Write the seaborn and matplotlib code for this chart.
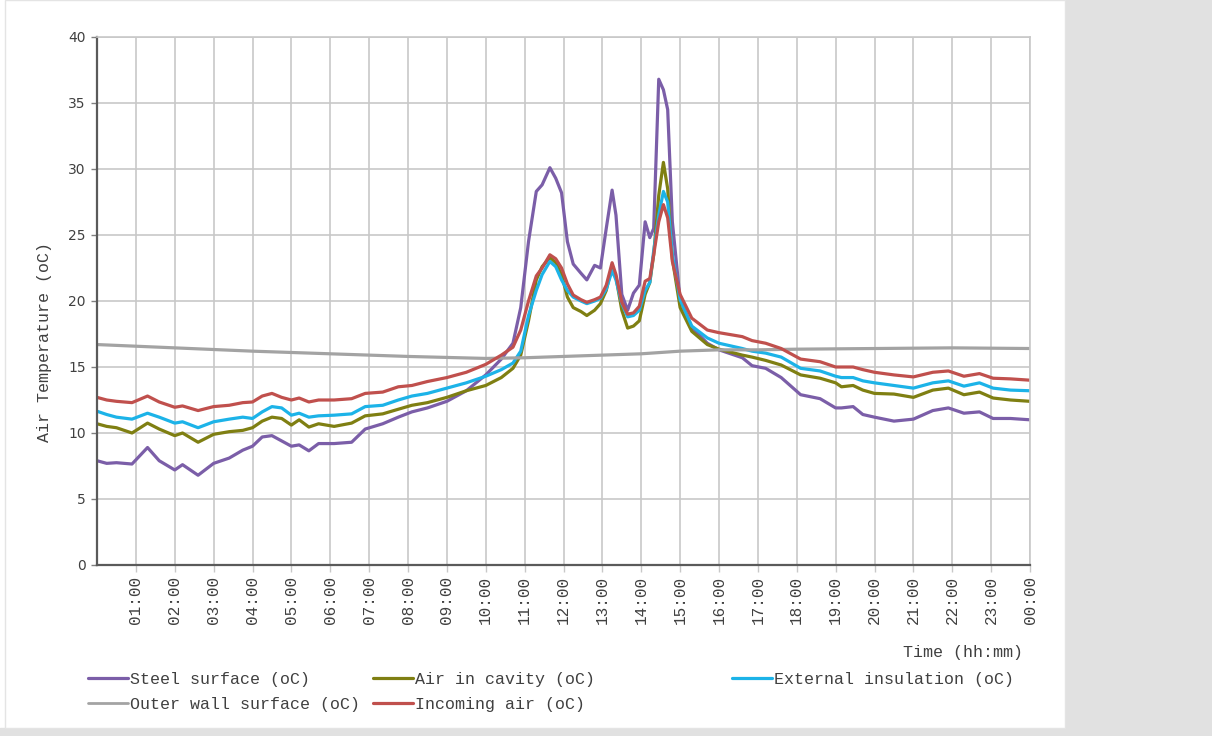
import matplotlib
matplotlib.use("Agg")
import matplotlib.pyplot as plt
from matplotlib.patches import Rectangle
import seaborn as sns
import pandas as pd

# time of day in hours (0 = 00:00, 24 = next 00:00)
hours = [0, 0.25, 0.5, 0.9, 1.3, 1.6, 2.0, 2.2, 2.6, 3.0,
         3.4, 3.75, 4.0, 4.25, 4.5, 4.75, 5.0, 5.2, 5.45, 5.7,
         6.1, 6.55, 6.9, 7.35, 7.75, 8.1, 8.5, 9.0, 9.5, 10.0,
         10.4, 10.7, 10.9, 11.1, 11.3, 11.45, 11.65, 11.8, 11.95, 12.1,
         12.25, 12.45, 12.6, 12.8, 12.95, 13.1, 13.25, 13.35, 13.5, 13.65,
         13.8, 13.95, 14.1, 14.22, 14.32, 14.45, 14.57, 14.68, 14.8, 15.0,
         15.3, 15.7, 16.0, 16.6, 16.85, 17.2, 17.6, 18.1, 18.6, 19.0,
         19.15, 19.45, 19.7, 20.0, 20.5, 21.0, 21.5, 21.9, 22.3, 22.7,
         23.05, 23.5, 24.0]

steel = [7.9, 7.7, 7.75, 7.65, 8.9, 7.9, 7.2, 7.6, 6.8, 7.7,
         8.1, 8.7, 9.0, 9.7, 9.8, 9.4, 9.0, 9.1, 8.65, 9.2,
         9.2, 9.3, 10.3, 10.7, 11.2, 11.6, 11.9, 12.4, 13.2, 14.4,
         15.6, 16.8, 19.5, 24.5, 28.3, 28.8, 30.1, 29.3, 28.2, 24.5,
         22.8, 22.1, 21.6, 22.7, 22.5, 25.5, 28.4, 26.5, 20.5, 19.3,
         20.6, 21.2, 26.0, 24.8, 25.5, 36.8, 36.0, 34.5, 26.0, 20.1,
         18.0, 16.8, 16.3, 15.7, 15.1, 14.9, 14.2, 12.9, 12.6, 11.9,
         11.9, 12.0, 11.4, 11.2, 10.9, 11.05, 11.7, 11.9, 11.5, 11.6,
         11.1, 11.1, 11.0]

cavity = [10.7, 10.5, 10.4, 10.0, 10.75, 10.3, 9.8, 10.0, 9.3, 9.9,
          10.1, 10.2, 10.4, 10.9, 11.2, 11.1, 10.6, 11.0, 10.45, 10.7,
          10.5, 10.75, 11.3, 11.45, 11.8, 12.1, 12.3, 12.7, 13.2, 13.6,
          14.2, 14.9, 15.9, 18.5, 21.6, 22.6, 23.3, 22.9, 22.0, 20.3,
          19.5, 19.2, 18.9, 19.3, 19.8, 20.8, 22.7, 21.8, 19.3, 17.95,
          18.1, 18.5, 20.5, 21.4, 23.5, 28.0, 30.5, 28.5, 23.2, 19.5,
          17.7, 16.7, 16.35, 15.9, 15.75, 15.5, 15.15, 14.4, 14.15, 13.8,
          13.5, 13.6, 13.25, 13.0, 12.95, 12.7, 13.25, 13.4, 12.9, 13.1,
          12.65, 12.5, 12.4]

insulation = [11.65, 11.4, 11.2, 11.05, 11.5, 11.2, 10.75, 10.85, 10.4, 10.85,
              11.05, 11.2, 11.1, 11.6, 12.0, 11.9, 11.35, 11.5, 11.2, 11.3,
              11.35, 11.45, 12.0, 12.1, 12.5, 12.8, 13.0, 13.4, 13.8, 14.3,
              14.8, 15.3, 16.2, 18.9, 20.8, 22.0, 23.0, 22.6, 21.6, 20.8,
              20.3, 20.0, 19.8, 20.0, 20.2, 20.9, 22.3, 21.6, 19.8, 18.8,
              18.9, 19.3, 20.8, 21.4, 23.8, 26.5, 28.3, 27.5, 23.5, 20.1,
              18.1, 17.2, 16.8, 16.4, 16.2, 16.05, 15.75, 14.9, 14.7, 14.3,
              14.2, 14.2, 13.95, 13.8, 13.6, 13.4, 13.8, 13.95, 13.55, 13.8,
              13.4, 13.25, 13.2]

incoming = [12.7, 12.5, 12.4, 12.3, 12.8, 12.35, 11.95, 12.05, 11.7, 12.0,
            12.1, 12.3, 12.35, 12.8, 13.0, 12.7, 12.5, 12.65, 12.35, 12.5,
            12.5, 12.6, 13.0, 13.1, 13.5, 13.6, 13.9, 14.2, 14.6, 15.2,
            15.9, 16.5, 17.8, 20.0, 21.9, 22.5, 23.5, 23.2, 22.5, 21.3,
            20.45, 20.1, 19.9, 20.1, 20.3, 21.2, 22.9, 22.0, 19.9, 19.0,
            19.1, 19.6, 21.5, 21.7, 23.5, 26.0, 27.3, 26.3, 23.0, 20.5,
            18.7, 17.8, 17.6, 17.3, 17.0, 16.8, 16.4, 15.6, 15.4, 15.0,
            15.0, 15.0, 14.8, 14.6, 14.4, 14.25, 14.6, 14.7, 14.3, 14.5,
            14.15, 14.1, 14.0]

# outer wall changes slowly, fewer readings
wall_hours = [0, 2, 4, 6, 8, 10, 11, 12, 13, 14, 15, 16, 17, 18, 20, 22, 24]
wall = [16.7, 16.45, 16.2, 16.0, 15.8, 15.65, 15.7, 15.8, 15.9, 16.0,
        16.2, 16.3, 16.3, 16.35, 16.4, 16.45, 16.4]

tick_labels = ["%02d:00" % (h % 24) for h in range(1, 25)]

names = ["Steel surface (oC)", "Air in cavity (oC)", "External insulation (oC)",
         "Outer wall surface (oC)", "Incoming air (oC)"]
colors = ["#7B5EA8", "#7F7F12", "#1CB3E8", "#A3A3A3", "#C0504D"]

records = []
for name, xs, ys in zip(names,
                        [hours, hours, hours, wall_hours, hours],
                        [steel, cavity, insulation, wall, incoming]):
    for x, y in zip(xs, ys):
        records.append({"series": name, "time": x, "temp": y})
df = pd.DataFrame(records)

sns.set_style("white")
mono = ["Liberation Mono", "DejaVu Sans Mono"]
txt_col = "#404040"

fig = plt.figure(figsize=(12.12, 7.36), dpi=100)
fig.patch.set_facecolor("white")
# grey panel on the right and strip at the bottom
fig.patches.append(Rectangle((1065 / 1212, 0), 1 - 1065 / 1212, 1,
                             transform=fig.transFigure, color="#E1E1E1", zorder=-2))
fig.patches.append(Rectangle((0, 0), 1, 8 / 736,
                             transform=fig.transFigure, color="#E1E1E1", zorder=-2))
fig.patches.append(Rectangle((5 / 1212, 8 / 736), 1060 / 1212, 1 - 8 / 736,
                             transform=fig.transFigure, facecolor="white",
                             edgecolor="#E4E4E4", lw=1, zorder=-1))

ax = fig.add_axes([97 / 1212, 1 - 565 / 736, 933 / 1212, 528 / 736])
ax.set_facecolor("none")

sns.lineplot(data=df, x="time", y="temp", hue="series", hue_order=names,
             palette=dict(zip(names, colors)), estimator=None, sort=False,
             linewidth=2.3, ax=ax)
handles, labels = ax.get_legend_handles_labels()
ax.get_legend().remove()
for ln in ax.get_lines():
    if ln.get_label() == "Outer wall surface (oC)":
        ln.set_linewidth(2.0)

ax.set_xlim(0, 24)
ax.set_ylim(0, 40)
ax.set_xticks(range(1, 25))
ax.set_xticklabels(tick_labels, rotation=90, family=mono, fontsize=11.5,
                   color=txt_col, va="top")
ax.set_yticks(range(0, 41, 5))
ax.tick_params(axis="y", labelsize=10, labelcolor=txt_col, left=True,
               length=4, width=1, color="#808080", pad=4)
ax.tick_params(axis="x", bottom=True, length=5, width=1, color="#C8C8C8", pad=3)
ax.grid(True, color="#C8C8C8", linewidth=1.2)
ax.set_axisbelow(True)
ax.set_xlabel("")
ax.set_ylabel("")
for side in ["top", "right"]:
    ax.spines[side].set_color("#C8C8C8")
    ax.spines[side].set_linewidth(1.2)
for side in ["left", "bottom"]:
    ax.spines[side].set_color("#5A5A5A")
    ax.spines[side].set_linewidth(1.6)

fig.text(45 / 1212, 1 - 342 / 736, "Air Temperature (oC)", rotation=90,
         ha="center", va="center", family=mono, fontsize=12, color=txt_col)
fig.text(1023 / 1212, 1 - 653 / 736, "Time (hh:mm)", ha="right", va="center",
         family=mono, fontsize=12, color=txt_col)

# legend laid out row by row, one legend per column
lookup = dict(zip(labels, handles))
columns = [(88, ["Steel surface (oC)", "Outer wall surface (oC)"]),
           (373, ["Air in cavity (oC)", "Incoming air (oC)"]),
           (732, ["External insulation (oC)"])]
for x0, labs in columns:
    leg = fig.legend([lookup[l] for l in labs], labs, loc="upper left",
                     bbox_to_anchor=(x0 / 1212, 1 - 672 / 736), frameon=False,
                     borderpad=0, borderaxespad=0, handlelength=2.4,
                     handletextpad=0.1, labelspacing=0.6,
                     prop={"family": mono, "size": 12})
    for t in leg.get_texts():
        t.set_color(txt_col)

fig.savefig("out.png", dpi=100)
